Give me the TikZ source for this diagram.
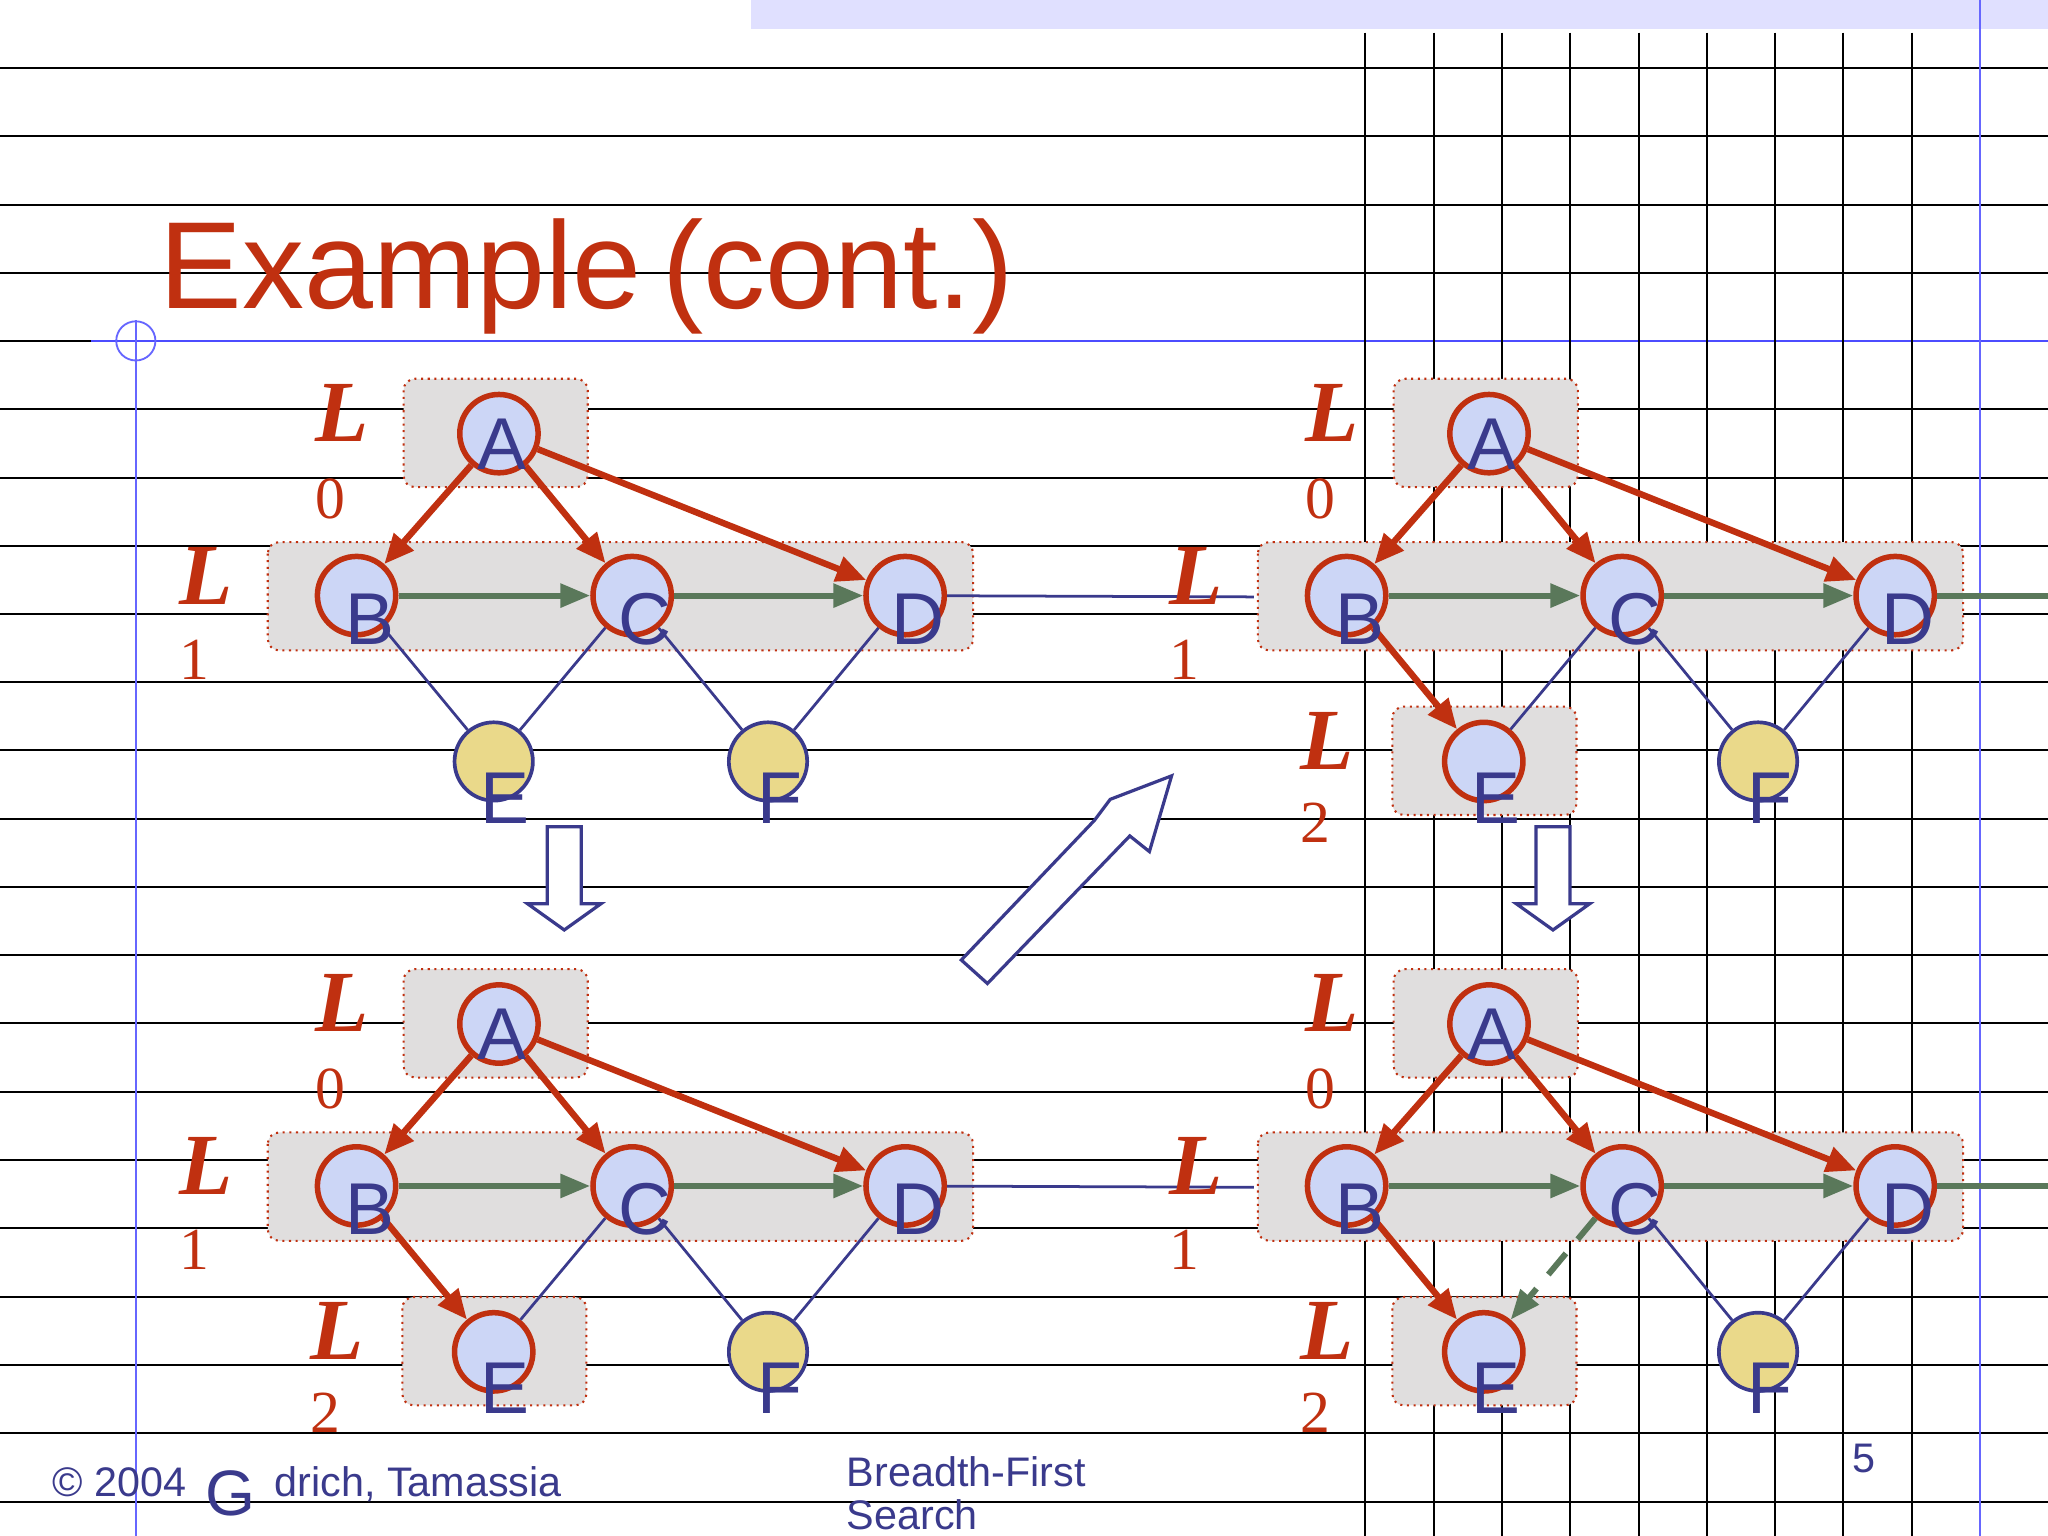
\documentclass[tikz,border=0pt]{standalone}
\usepackage{fontspec}
\setmainfont{Liberation Sans}
\newfontfamily\serifL{Liberation Serif}
\usetikzlibrary{arrows.meta}
\definecolor{rd}{RGB}{192,48,16}
\definecolor{bl}{RGB}{58,58,140}
\definecolor{cf}{RGB}{204,214,246}
\definecolor{yf}{RGB}{234,217,138}
\definecolor{gb}{RGB}{224,222,222}
\definecolor{gr}{RGB}{90,120,90}
\tikzset{
 vis/.style={circle,draw=rd,line width=2.4pt,fill=cf,minimum size=1.2cm,inner sep=0},
 unv/.style={circle,draw=bl,line width=1.6pt,fill=yf,minimum size=1.2cm,inner sep=0},
 lbl/.style={font=\fontsize{32}{34}\selectfont,text=bl,inner sep=0},
 lev/.style={font=\serifL\bfseries\itshape\fontsize{38}{40}\selectfont,text=rd,inner sep=0},
 levn/.style={font=\serifL\fontsize{26}{28}\selectfont,text=rd,inner sep=0},
 lbox/.style={draw=rd,dotted,line width=0.9pt,fill=gb,rounded corners=5pt},
 disc/.style={draw=rd,line width=2.8pt,-{Triangle[length=13pt,width=11pt]}},
 cross/.style={draw=gr,line width=2.6pt,-{Triangle[length=13pt,width=10pt]}},
 tree/.style={draw=bl,line width=1.2pt},
 hol/.style={draw=bl,line width=1.4pt,fill=white},
 foot/.style={anchor=base west,text=bl,font=\fontsize{18}{20}\selectfont,inner sep=0},
}
\newcommand\panel[4]{%
\begin{scope}[shift={(#2,#3)}]
\draw[lbox] (309,290) rectangle (450,373);
\draw[lbox] (205,415) rectangle (745,498);
\ifnum#4>0 \draw[lbox] (308,541) rectangle (449,624);\fi
\node[lev] at (262,316) {L}; \node[levn] at (253,382) {0};
\node[lev] at (158,441) {L}; \node[levn] at (149,505) {1};
\ifnum#4>0 \node[lev] at (258,567) {L}; \node[levn] at (249,630) {2};\fi
\node[vis] (#1A) at (382,332) {};
\node[vis] (#1B) at (273,456) {};
\node[vis] (#1C) at (484,456) {};
\node[vis] (#1D) at (693,456) {};
\ifnum#4>0 \node[vis] (#1E) at (378,583) {};\else\node[unv] (#1E) at (378,583) {};\fi
\node[unv] (#1F) at (588,583) {};
\ifnum#4=1 \draw[cross] (#1D.east) -- (#1D.east -| 1800,0);\fi
\ifnum#4=3 \draw[cross] (#1D.east) -- (#1D.east -| 1800,0);\fi
\ifnum#4=0 \draw[tree] (#1D) -- ++(267,1);\fi
\ifnum#4=2 \draw[tree] (#1D) -- ++(267,1);\fi
\draw[disc] (#1A) -- (#1B);
\draw[disc] (#1A) -- (#1C);
\draw[disc] (#1A) -- (#1D);
\draw[cross] (#1B) -- (#1C);
\draw[cross] (#1C) -- (#1D);
\ifnum#4>0 \draw[disc] (#1B) -- (#1E);\else \draw[tree] (#1B) -- (#1E);\fi
\ifnum#4=3 \draw[cross,dash pattern=on 12pt off 8pt] (#1C) -- (#1E);\else \draw[tree] (#1C) -- (#1E);\fi
\draw[tree] (#1C) -- (#1F);
\draw[tree] (#1D) -- (#1F);
\node[lbl] at ([shift={(2,8)}]#1A) {A};
\foreach \n in {B,C,D} \node[lbl] at ([shift={(10,18)}]#1\n) {\n};
\foreach \n in {E,F} \node[lbl] at ([shift={(9,28)}]#1\n) {\n};
\end{scope}}
\begin{document}
\begin{tikzpicture}[x=0.02cm,y=-0.02cm]
\path[use as bounding box] (0,0) rectangle (1568,1176);
\fill[white] (0,0) rectangle (1568,1176);
\fill[blue!12] (575,0) rectangle (1568,22);
\foreach \y in {52,104,157,209,313,366,418,470,522,574,627,679,731,783,836,888,940,993,1045,1097,1150}
  \draw[black,line width=0.9pt] (0,\y) -- (1568,\y);
\draw[black,line width=0.9pt] (0,261) -- (70,261);
\draw[blue!70,line width=0.9pt] (70,261) -- (1568,261);
\foreach \x in {1045,1098,1150,1202,1255,1307,1359,1411,1464}
  \draw[black,line width=0.9pt] (\x,25) -- (\x,1176);
\draw[blue!60,line width=0.8pt] (104,245) -- (104,1176);
\draw[blue!60,line width=0.8pt] (1516,0) -- (1516,1176);
\draw[blue!60,line width=0.8pt] (104,261) circle (15);
\node[anchor=base west,text=rd,font=\fontsize{54}{56}\selectfont,inner sep=0] (title) at (122,236) {Example\,(cont.)};
\panel{p}{0}{0}{0}
\panel{q}{758}{0}{1}
\panel{r}{0}{452}{2}
\panel{s}{758}{452}{3}
\draw[hol] (419,633) -- (445,633) -- (445,692) -- (460,692) -- (432,712) -- (404,692) -- (419,692) -- cycle;
\draw[hol] (1176,633) -- (1202,633) -- (1202,692) -- (1217,692) -- (1189,712) -- (1161,692) -- (1176,692) -- cycle;
\draw[hol] (736,735) -- (838,628) -- (850,612) -- (897,594) -- (880,652) -- (865,640) -- (756,753) -- cycle;
\node[foot] (c1) at (40,1146) {© 2004};
\node[foot,font=\fontsize{28}{30}\selectfont] (c2) at (157,1160) {G};
\node[foot] (c3) at (210,1146) {drich, Tamassia};
\node[foot] (b1) at (648,1138) {Breadth-First};
\node[foot] (b2) at (648,1171) {Search};
\node[foot] (pg) at (1418,1127) {5};
\end{tikzpicture}
\end{document}
